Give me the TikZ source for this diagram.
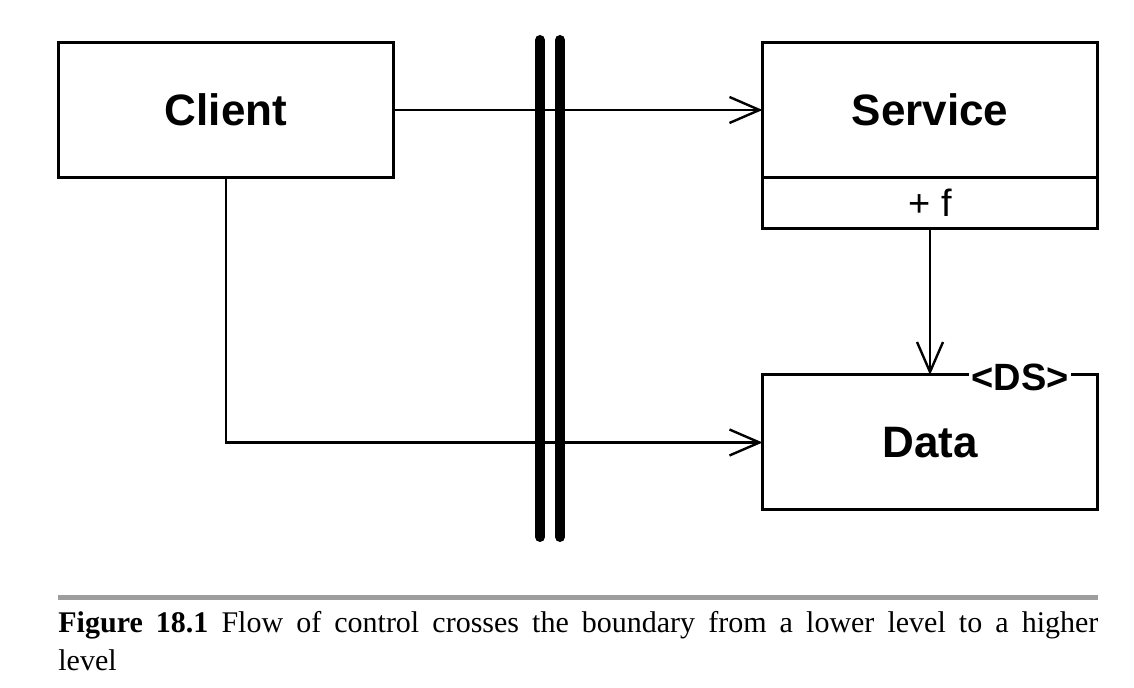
\documentclass[tikz,border=0pt]{standalone}
\usepackage{fontspec}
\setmainfont{Liberation Serif}
\newfontfamily\boxfont{Liberation Sans}
\usetikzlibrary{arrows.meta,positioning}
\tikzset{
  classbox/.style={draw, line width=1.5pt, minimum width=167.5pt, inner sep=0pt, outer sep=0pt},
  flow/.style={line width=1.2pt, -{Straight Barb[length=15pt,width=13pt,line width=1.2pt]}},
  boundary/.style={line width=5pt, line cap=round}
}
\begin{document}
\begin{tikzpicture}[x=0.5pt,y=-0.5pt]
\useasboundingbox (0,0) rectangle (1134,688);
% The classes
\node[classbox, minimum height=67.5pt, font=\boxfont\bfseries\fontsize{22}{26}\selectfont] (client) at (226,110) {Client};
\node[classbox, minimum height=67.5pt, font=\boxfont\bfseries\fontsize{22}{26}\selectfont] (service) at (930,110) {Service};
\node[classbox, minimum height=25.5pt, anchor=north, font=\boxfont\fontsize{19}{22}\selectfont] (svcops) at (service.south) {+ f};
\node[classbox, minimum height=67.5pt, font=\boxfont\bfseries\fontsize{22}{26}\selectfont] (data) at (930,442.5) {Data};
% The stereotype sits on the top border of Data
\node[fill=white, inner sep=1pt, font=\boxfont\bfseries\fontsize{19}{22}\selectfont] (ds) at ([xshift=45pt,yshift=-1pt]data.north) {\textless DS\textgreater};
% The boundary
\draw[boundary] (540,40) -- (540,537);
\draw[boundary] (560,40) -- (560,537);
% Flow of control
\draw[flow] (client) -- (service);
\draw[flow] (client.south) |- (data.west);
\draw[flow] (svcops.south) -- (data.north);
% Caption
\draw[line width=2.5pt, color=black!38] (58,598) -- (1098,598);
\node[anchor=north west, inner sep=0pt, text width=520pt, align=justify, font=\fontsize{15}{19}\selectfont] (caption) at (58,611)
  {\textbf{Figure 18.1} Flow of control crosses the boundary from a lower level to a higher\linebreak level};
\end{tikzpicture}
\end{document}
